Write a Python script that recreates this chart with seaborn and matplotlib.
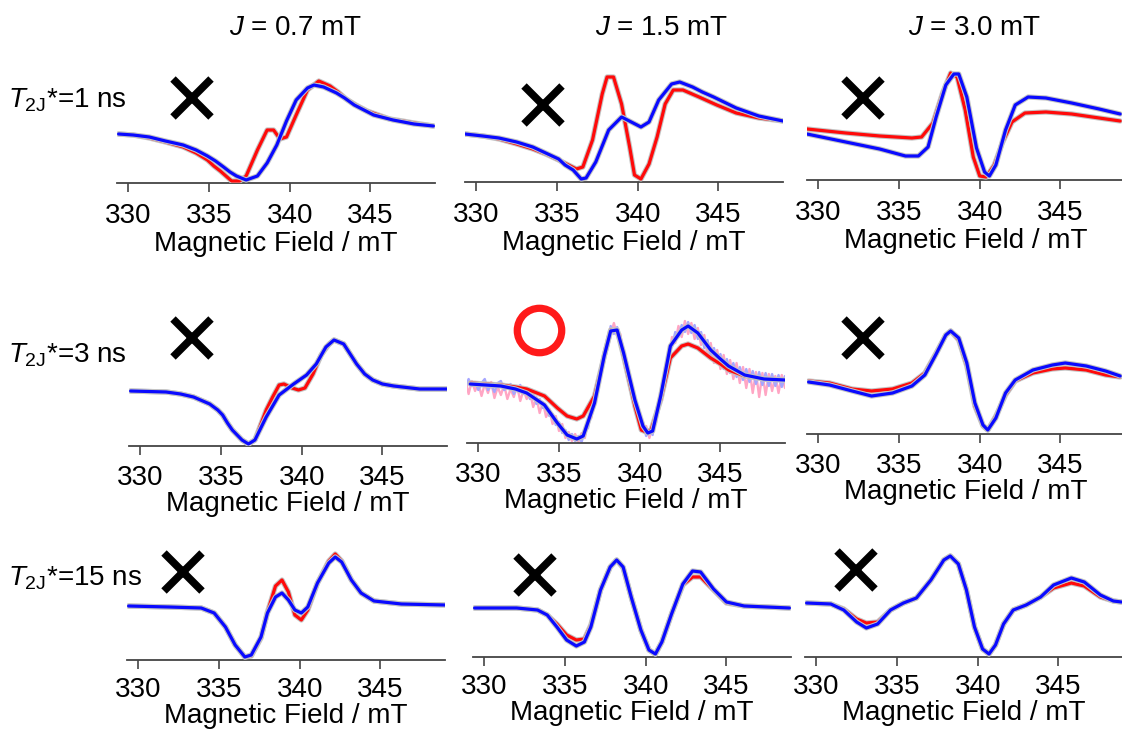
import numpy as np
import pandas as pd
import matplotlib
matplotlib.use("Agg")
import matplotlib.pyplot as plt
import matplotlib.patheffects as pe
from matplotlib.lines import Line2D
import seaborn as sns

# ---------------------------------------------------------------- data
# Simulated (red) and fitted (blue) EPR spectra, intensity in arbitrary units.
field_ticks = [330, 335, 340, 345]
coupling_titles = [r"$J$ = 0.7 mT", r"$J$ = 1.5 mT", r"$J$ = 3.0 mT"]
dephasing_labels = [r"$T_{\mathrm{2J}}$*=1 ns", r"$T_{\mathrm{2J}}$*=3 ns", r"$T_{\mathrm{2J}}$*=15 ns"]

# J = 0.7 mT, T2J* = 1 ns
f07_1_red = [329.4, 330.3, 331.3, 332.3, 333.4, 334.2, 334.9, 335.3, 335.7, 336.4,
             336.9, 337.3, 338.0, 338.6, 339.0, 339.4, 339.8, 340.4, 341.1, 341.8,
             342.5, 343.0, 343.5, 344.1, 344.8, 345.5, 346.2, 347.0, 347.7, 348.9]
y07_1_red = [49, 48, 45, 41, 36, 30, 23, 17, 12, 2,
             2, 7, 33, 53, 53, 44, 46, 68, 93, 102,
             97, 91, 84, 78, 72, 68, 64, 62, 60, 57]
f07_1_blue = [329.4, 330.3, 331.3, 332.3, 333.4, 334.2, 334.9, 335.4, 335.9, 336.3,
              336.7, 337.3, 338.0, 338.6, 339.2, 339.8, 340.4, 341.1, 341.5, 342.1,
              342.9, 343.4, 344.0, 344.6, 345.2, 346.4, 347.7, 348.9]
y07_1_blue = [49, 48, 46, 42, 38, 33, 27, 22, 16, 11,
              7, 3, 7, 20, 38, 62, 83, 95, 98, 96,
              90, 85, 78, 73, 68, 63, 59, 57]

# J = 1.5 mT, T2J* = 1 ns
f15_1_red = [329.3, 330.4, 331.4, 332.5, 333.5, 334.3, 335.1, 336.2, 336.6, 337.2,
             337.8, 338.1, 338.5, 339.0, 339.5, 339.8, 340.2, 340.7, 341.2, 341.7,
             342.2, 342.8, 343.8, 344.9, 346.1, 347.5, 349.0]
y15_1_red = [48, 46, 43, 38, 33, 28, 22, 13, 15, 42,
             88, 105, 105, 78, 35, 7, 3, 18, 45, 78,
             92, 92, 85, 77, 69, 64, 61]
f15_1_blue = [329.3, 330.4, 331.4, 332.5, 333.5, 334.3, 335.1, 335.5, 336.0, 336.5,
              336.8, 337.4, 338.2, 339.0, 339.6, 340.2, 340.7, 341.3, 342.1, 342.6,
              343.4, 344.0, 344.7, 346.1, 347.5, 349.0]
y15_1_blue = [48, 46, 44, 40, 35, 29, 23, 17, 12, 3,
              4, 20, 52, 65, 60, 55, 60, 82, 98, 100,
              95, 90, 85, 74, 66, 61]

# J = 3.0 mT, T2J* = 1 ns
f30_1_red = [329.3, 331.7, 333.8, 335.8, 336.4, 337.1, 337.7, 338.2, 338.6, 339.1, 339.6,
             340.0, 340.4, 340.9, 341.4, 342.0, 342.8, 344.1, 345.7, 347.4, 348.7]
y30_1_red = [51, 47, 44, 42, 43, 57, 87, 107, 103, 70, 23, 4, 3, 15, 37, 58, 67, 68, 66, 62, 59]
f30_1_blue = [329.3, 331.7, 333.8, 335.4, 336.2, 336.8, 337.3, 337.9, 338.4, 338.7, 339.2,
              339.8, 340.3, 340.6, 341.0, 341.6, 342.2, 343.0, 344.1, 345.7, 347.4, 348.7]
y30_1_blue = [46, 38, 31, 24, 24, 33, 63, 95, 106, 106, 83, 32, 8, 4, 15, 50, 75, 83, 82, 77, 71, 66]

# J = 0.7 mT, T2J* = 3 ns
f07_3_red = [329.4, 331.6, 332.5, 333.3, 334.3, 334.8, 335.1, 335.4, 335.7, 336.3,
             336.7, 337.1, 337.8, 338.2, 338.6, 338.9, 339.4, 339.8, 340.2, 340.7,
             341.2, 341.7, 342.0, 342.6, 343.4, 343.9, 344.4, 345.0, 345.7, 347.3, 349.0]
y07_3_red = [55, 54, 52, 49, 42, 36, 31, 23, 16, 6,
             2, 6, 36, 49, 61, 62, 58, 56, 58, 72,
             91, 102, 106, 102, 82, 72, 66, 62, 60, 57, 57]
f07_3_blue = [329.4, 331.6, 332.5, 333.3, 334.3, 334.8, 335.1, 335.4, 335.7, 336.3,
              336.7, 337.1, 337.8, 338.6, 339.5, 340.3, 340.9, 341.5, 342.0, 342.6,
              343.4, 343.9, 344.4, 345.0, 345.7, 347.3, 349.0]
y07_3_blue = [55, 54, 52, 49, 42, 36, 31, 23, 16, 6,
              2, 6, 29, 51, 62, 71, 82, 99, 106, 102,
              82, 72, 66, 62, 60, 57, 57]

# J = 1.5 mT, T2J* = 3 ns (fits plus the measured spectra)
f15_3_red = [329.5, 331.4, 332.3, 333.0, 334.1, 334.9, 335.5, 336.1, 336.5, 337.2,
             337.8, 338.2, 338.6, 339.0, 339.7, 340.1, 340.4, 340.7, 341.3, 341.9,
             342.6, 343.0, 343.6, 344.4, 345.0, 345.5, 346.5, 347.7, 349.0]
y15_3_red = [60, 58, 56, 54, 47, 35, 27, 24, 27, 47,
             87, 113, 113, 87, 37, 13, 11, 13, 43, 85,
             97, 99, 95, 85, 79, 73, 67, 64, 63]
f15_3_blue = [329.5, 331.4, 332.3, 333.0, 334.1, 334.9, 335.5, 336.1, 336.5, 337.2,
              337.8, 338.2, 338.6, 339.0, 339.7, 340.2, 340.5, 340.8, 341.3, 341.9,
              342.6, 343.0, 343.6, 344.4, 345.0, 345.5, 346.5, 347.7, 349.0]
y15_3_blue = [59, 57, 54, 50, 38, 20, 8, 4, 7, 40,
              87, 112, 113, 90, 43, 17, 10, 12, 47, 97,
              113, 117, 110, 93, 84, 77, 68, 64, 63]
# measured spectra, 0.2 mT steps from 329.0 to 349.2 mT
measured_blue = [63, 56, 64, 57, 61, 53, 60, 64, 53, 58,
                 51, 60, 62, 53, 55, 59, 49, 55, 58, 49,
                 53, 44, 50, 39, 44, 35, 37, 27, 29, 18,
                 21, 10, 13, 3, 9, 2, 7, 1, 12, 15,
                 34, 37, 60, 67, 92, 96, 117, 109, 116, 99,
                 94, 72, 66, 42, 40, 20, 21, 7, 14, 8,
                 29, 36, 61, 68, 94, 96, 111, 106, 118, 111,
                 121, 110, 118, 104, 111, 95, 103, 87, 95, 80,
                 89, 74, 84, 70, 80, 66, 76, 63, 74, 61,
                 72, 59, 71, 58, 70, 57, 69, 57, 68, 56,
                 67, 60]
measured_red = [55, 64, 49, 62, 52, 60, 47, 59, 50, 61,
                45, 56, 48, 58, 44, 54, 46, 57, 42, 53,
                44, 51, 36, 46, 30, 41, 26, 34, 19, 27,
                12, 19, 5, 11, 2, 9, 1, 10, 5, 24,
                25, 46, 50, 77, 82, 106, 108, 120, 107, 109,
                84, 82, 56, 52, 30, 30, 12, 17, 5, 17,
                19, 45, 50, 78, 83, 106, 100, 117, 106, 122,
                109, 120, 104, 115, 98, 108, 88, 100, 80, 93,
                74, 88, 69, 83, 64, 80, 60, 76, 55, 74,
                50, 71, 46, 70, 48, 69, 52, 67, 50, 68,
                55, 64]
sweep_start, sweep_end = 329.0, 349.2

# J = 3.0 mT, T2J* = 3 ns
f30_3 = [329.4, 330.7, 332.1, 333.3, 334.6, 335.8, 336.6, 337.3, 337.9, 338.2, 338.7, 339.2,
         339.7, 340.2, 340.5, 341.0, 341.6, 342.2, 343.3, 344.5, 345.3, 346.6, 347.8, 348.7]
y30_3_red = [53, 51, 45, 43, 45, 51, 61, 81, 99, 103, 94, 68, 28, 8, 4, 18, 39, 53, 61, 65, 66, 64, 59, 57]
y30_3_blue = [52, 49, 43, 38, 41, 48, 59, 80, 99, 103, 96, 71, 31, 9, 4, 16, 41, 54, 64, 69, 71, 68, 63, 58]

# J = 0.7 mT, T2J* = 15 ns
f07_15 = [329.4, 331.9, 333.9, 334.7, 335.4, 336.0, 336.6, 337.0, 337.6, 338.0, 338.5, 338.9, 339.3,
          339.7, 340.1, 340.5, 341.1, 341.8, 342.2, 342.6, 343.2, 343.8, 344.6, 346.3, 349.0]
y07_15_red = [54, 53, 52, 47, 33, 15, 3, 4, 22, 48, 74, 80, 68, 45, 40, 50, 77, 99, 106, 99, 80, 67, 59, 56, 55]
y07_15_blue = [54, 53, 52, 47, 33, 15, 3, 5, 23, 47, 63, 67, 60, 50, 47, 53, 77, 97, 103, 98, 80, 67, 59, 56, 55]

# J = 1.5 mT, T2J* = 15 ns
f15_15 = [329.4, 332.0, 333.3, 333.9, 334.5, 335.1, 335.7, 336.2, 336.6, 337.2, 337.8, 338.2, 338.6,
          339.1, 339.7, 340.2, 340.6, 341.0, 341.6, 342.3, 342.9, 343.4, 344.2, 345.0, 346.1, 348.9]
y15_15_red = [49, 49, 47, 42, 33, 22, 17, 18, 32, 67, 90, 97, 89, 60, 27, 7, 3, 15, 43, 72, 80, 80, 67, 54, 51, 49]
y15_15_blue = [49, 49, 47, 42, 30, 17, 11, 15, 30, 67, 90, 97, 90, 60, 27, 7, 3, 15, 43, 73, 86, 85, 68, 55, 51, 49]

# J = 3.0 mT, T2J* = 15 ns
f30_15 = [329.4, 330.9, 331.7, 332.5, 333.1, 333.8, 334.6, 335.4, 336.2, 337.1, 337.9, 338.3, 338.8, 339.3,
          339.8, 340.3, 340.7, 341.1, 341.6, 342.2, 343.0, 343.9, 344.7, 345.8, 346.6, 347.6, 348.4, 348.9]
y30_15_red = [54, 53, 48, 38, 34, 35, 47, 54, 59, 77, 97, 101, 93, 67, 30, 8, 3, 12, 33, 47, 52, 60, 69, 74, 71, 60, 56, 55]
y30_15_blue = [54, 53, 47, 35, 29, 33, 47, 54, 59, 77, 97, 101, 93, 67, 30, 8, 3, 12, 33, 47, 52, 60, 72, 79, 75, 62, 56, 55]

# verdict per panel: "x" = rejected, "o" = accepted
verdicts = [["x", "x", "x"], ["x", "o", "x"], ["x", "x", "x"]]

# ---------------------------------------------------------------- style
sns.set_theme(style="ticks")
plt.rcParams["font.family"] = ["Liberation Sans", "DejaVu Sans"]
plt.rcParams["mathtext.fontset"] = "custom"
plt.rcParams["mathtext.rm"] = "Liberation Sans"
plt.rcParams["mathtext.it"] = "Liberation Sans:italic"
plt.rcParams["mathtext.bf"] = "Liberation Sans:bold"
plt.rcParams["text.color"] = "black"
plt.rcParams["axes.labelcolor"] = "black"
plt.rcParams["xtick.color"] = "black"

W, H = 1122, 731
FS = 20
RED, BLUE = "#ff0a0a", "#0a0aff"
halo = [pe.Stroke(linewidth=3.8, foreground="#c4c4c4"), pe.Normal()]

fig = plt.figure(figsize=(W / 100, H / 100), dpi=100)
fig.patch.set_facecolor("white")

# panel placement in pixels: (left edge, baseline)
origins = [[(117, 183), (465, 182), (807, 180)],
           [(129, 446), (467, 443), (807, 434)],
           [(127, 660), (473, 657), (805, 657)]]
ax_w, ax_h = 318, 130
# tick-label and axis-label spacing per row (points)
tick_pad = [8, 7, 5.5]
label_pad = [1, 0, 0]
# marker centres in pixels
mark_pos = [[(192, 98), (543, 105), (863, 98)],
            [(192, 338), (539, 330), (863, 338)],
            [(183, 572), (535, 575), (856, 570)]]

curves = [
    [((f07_1_red, y07_1_red), (f07_1_blue, y07_1_blue)),
     ((f15_1_red, y15_1_red), (f15_1_blue, y15_1_blue)),
     ((f30_1_red, y30_1_red), (f30_1_blue, y30_1_blue))],
    [((f07_3_red, y07_3_red), (f07_3_blue, y07_3_blue)),
     ((f15_3_red, y15_3_red), (f15_3_blue, y15_3_blue)),
     ((f30_3, y30_3_red), (f30_3, y30_3_blue))],
    [((f07_15, y07_15_red), (f07_15, y07_15_blue)),
     ((f15_15, y15_15_red), (f15_15, y15_15_blue)),
     ((f30_15, y30_15_red), (f30_15, y30_15_blue))],
]


def draw_line(ax, x, y, color, lw=2.3, effects=True, z=3):
    df = pd.DataFrame({"field": x, "signal": y})
    sns.lineplot(data=df, x="field", y="signal", ax=ax, color=color, lw=lw,
                 estimator=None, sort=False, zorder=z,
                 path_effects=halo if effects else None)


for r in range(3):
    for c in range(3):
        left, base = origins[r][c]
        ax = fig.add_axes([left / W, (H - base) / H, ax_w / W, ax_h / H])
        ax.patch.set_alpha(0)
        if (r, c) == (1, 1):
            sweep_r = np.linspace(sweep_start, sweep_end, len(measured_red))
            sweep_b = np.linspace(sweep_start, sweep_end, len(measured_blue))
            draw_line(ax, sweep_r, measured_red, "#ffa6c4", lw=1.7, effects=False, z=1)
            draw_line(ax, sweep_b, measured_blue, "#a6a6ff", lw=1.7, effects=False, z=2)
        (fr, yr), (fb, yb) = curves[r][c]
        draw_line(ax, fr, yr, RED, z=3)
        draw_line(ax, fb, yb, BLUE, z=4)

        ax.set_xlim(329.3, 349.0)
        ax.set_ylim(0, ax_h)
        ax.set_yticks([])
        ax.set_ylabel("")
        ax.set_xticks(field_ticks)
        ax.set_xticklabels([str(t) for t in field_ticks])
        ax.tick_params(axis="x", labelsize=FS, length=6.5, width=1.2, pad=tick_pad[r],
                       color="#444444", labelcolor="black", direction="out")
        ax.set_xlabel("Magnetic Field / mT", fontsize=FS, labelpad=label_pad[r], color="black")
        sns.despine(ax=ax, left=True)
        ax.spines["bottom"].set_color("#444444")
        ax.spines["bottom"].set_linewidth(1.3)

        mx, my = mark_pos[r][c]
        if verdicts[r][c] == "x":
            fig.add_artist(Line2D([mx / W], [1 - my / H], marker="x", ms=27, mew=5.5,
                                  color="black", transform=fig.transFigure))
        else:
            fig.add_artist(Line2D([mx / W], [1 - my / H], marker="o", ms=32, mew=5.2,
                                  mfc="none", mec="#ff1a1a", transform=fig.transFigure))

# column titles
for title, cx in zip(coupling_titles, [296, 662, 975]):
    fig.text(cx / W, 1 - 28 / H, title, ha="center", va="center", fontsize=FS)

# row labels
for label, cy in zip(dephasing_labels, [100, 355, 578]):
    fig.text(8 / W, 1 - cy / H, label, ha="left", va="center", fontsize=FS)

fig.savefig("out.png", dpi=100, facecolor="white")
